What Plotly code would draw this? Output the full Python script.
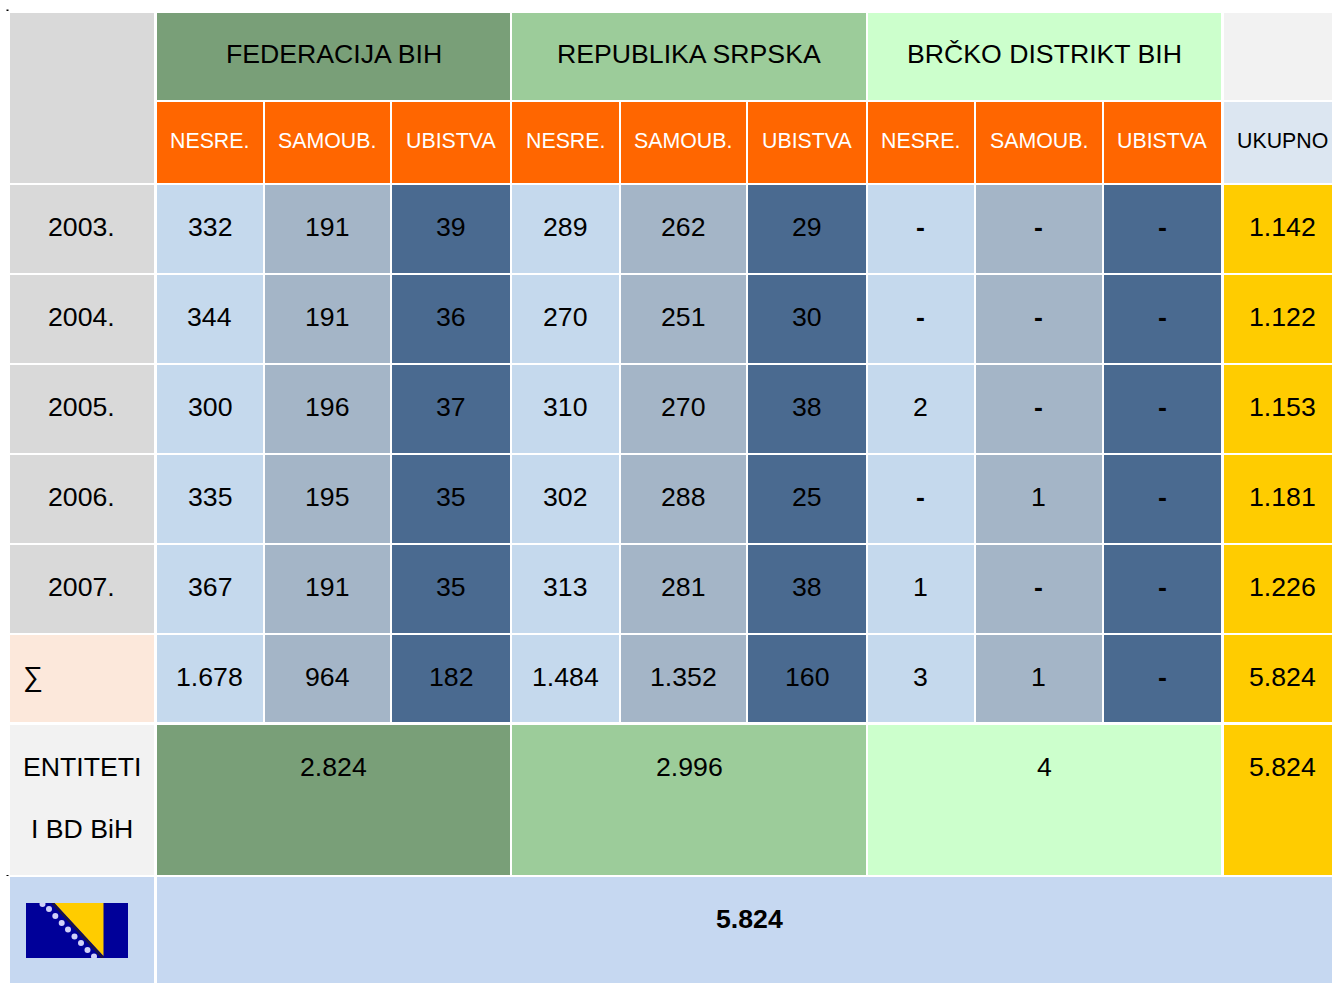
import plotly.graph_objects as go

# ---------- data ----------
years = ["2003.", "2004.", "2005.", "2006.", "2007."]
sum_label = "∑"
groups = ["FEDERACIJA BIH", "REPUBLIKA SRPSKA", "BRČKO DISTRIKT BIH"]
subheads = ["NESRE.", "SAMOUB.", "UBISTVA"]
total_head = "UKUPNO"

fbih_nesre = ["332", "344", "300", "335", "367", "1.678"]
fbih_samoub = ["191", "191", "196", "195", "191", "964"]
fbih_ubistva = ["39", "36", "37", "35", "35", "182"]
rs_nesre = ["289", "270", "310", "302", "313", "1.484"]
rs_samoub = ["262", "251", "270", "288", "281", "1.352"]
rs_ubistva = ["29", "30", "38", "25", "38", "160"]
bd_nesre = ["-", "-", "2", "-", "1", "3"]
bd_samoub = ["-", "-", "-", "1", "-", "1"]
bd_ubistva = ["-", "-", "-", "-", "-", "-"]
ukupno = ["1.142", "1.122", "1.153", "1.181", "1.226", "5.824"]

entity_label = ["ENTITETI", "I BD BiH"]
entity_totals = ["2.824", "2.996", "4"]
entity_sum = "5.824"
grand_total = "5.824"

# ---------- layout ----------
FONT = "Liberation Sans, Arial, sans-serif"
col_l = [10, 157, 265, 392, 512, 621, 748, 868, 976, 1104, 1224]
col_r = [154, 263, 390, 510, 619, 746, 866, 974, 1102, 1221, 1332]
row_t = [185, 275, 365, 455, 545, 635]
row_b = [273, 363, 453, 543, 633, 722]

GREY = "#D9D9D9"; PALE = "#F2F2F2"; GREEN1 = "#799F78"; GREEN2 = "#9CCC9A"; GREEN3 = "#CCFFCC"
ORANGE = "#FF6600"; HEAD_T = "#DCE6F1"; C1 = "#C5D9ED"; C2 = "#A4B5C7"; C3 = "#4A6A90"
YELLOW = "#FFCC00"; SIGMA = "#FCE8DB"; BOTTOM = "#C6D8F1"
cell_colors = [C1, C2, C3]
group_colors = [GREEN1, GREEN2, GREEN3]

shapes = []
annotations = []


def rect(x0, y0, x1, y1, color, layer="below"):
    shapes.append(dict(type="rect", xref="x", yref="y", x0=x0, y0=y0, x1=x1, y1=y1,
                       fillcolor=color, line=dict(width=0), layer=layer))


def label(x, y, text, size=26.67, color="black", bold=False, anchor="center"):
    annotations.append(dict(xref="x", yref="y", x=x, y=y, text=f"<b>{text}</b>" if bold else text,
                            showarrow=False, xanchor=anchor, yanchor="middle",
                            font=dict(family=FONT, size=size, color=color)))


# Corner and header cells
rect(col_l[0], 13, col_r[0], 183, GREY)
rect(col_l[10], 13, col_r[10], 100, PALE)
rect(col_l[10], 102, col_r[10], 183, HEAD_T)
total_center = (col_l[10] + col_r[10]) / 2 + 4.5
label(total_center, 141, total_head, size=21.33)

for g, name in enumerate(groups):
    l = col_l[1 + 3 * g]
    r = col_r[3 + 3 * g]
    rect(l, 13, r, 100, group_colors[g])
    label((l + r) / 2, 54, name)
    rect(l, 725, r, 875, group_colors[g])
    label((l + r) / 2, 767, entity_totals[g])
    for s, sub in enumerate(subheads):
        c = 1 + 3 * g + s
        rect(col_l[c], 102, col_r[c], 183, ORANGE)
        label((col_l[c] + col_r[c]) / 2 - 0.5, 141, sub, size=21.33, color="white")

# Row labels
for i, y in enumerate(years):
    rect(col_l[0], row_t[i], col_r[0], row_b[i], GREY)
    label((col_l[0] + col_r[0]) / 2 - 0.5, row_t[i] + 42, y)
rect(col_l[0], row_t[5], col_r[0], row_b[5], SIGMA)
label(20.5, 676, sum_label, size=28, anchor="left")

# Body
columns = [fbih_nesre, fbih_samoub, fbih_ubistva, rs_nesre, rs_samoub, rs_ubistva,
           bd_nesre, bd_samoub, bd_ubistva]
for c, values in enumerate(columns):
    for i, v in enumerate(values):
        rect(col_l[c + 1], row_t[i], col_r[c + 1], row_b[i], cell_colors[c % 3])
        label((col_l[c + 1] + col_r[c + 1]) / 2 - 0.5, row_t[i] + 42, v, bold=(v == "-"))

for i, v in enumerate(ukupno):
    rect(col_l[10], row_t[i], col_r[10], row_b[i], YELLOW)
    label(total_center, row_t[i] + 42, v)

# Entity row
rect(col_l[0], 725, col_r[0], 875, PALE)
label((col_l[0] + col_r[0]) / 2, 767, entity_label[0])
label((col_l[0] + col_r[0]) / 2, 829, entity_label[1])
rect(col_l[10], 725, col_r[10], 875, YELLOW)
label(total_center, 767, entity_sum)

# Bottom row
rect(col_l[0], 877, col_r[0], 983, BOTTOM)
rect(col_l[1], 877, col_r[10], 983, BOTTOM)
label((col_l[1] + col_r[10]) / 2 + 5, 919, grand_total, bold=True)

# Flag of Bosnia and Herzegovina
rect(26, 903, 128, 958, "#000099")
shapes.append(dict(type="path", xref="x", yref="y", path="M 54.5 903 L 103.5 903 L 103.5 956 Z",
                   fillcolor="#FFCC00", line=dict(width=0), layer="below"))
shapes.append(dict(type="line", xref="x", yref="y", x0=52.5, y0=903, x1=103, y1=958,
                   line=dict(color="#1C1440", width=2.5), layer="below"))
star_x = [42.5, 49, 55.3, 61.7, 68, 74.5, 81, 87.5, 94]
star_y = [904, 909, 916, 923, 929.5, 936.5, 943, 950, 956.5]
stars = go.Scatter(x=star_x, y=star_y, mode="markers", hoverinfo="skip",
                   marker=dict(symbol="circle", size=6, color="#D0D0F8", line=dict(width=0)))
# Clip star overflow at the flag's top and bottom
rect(26, 897, 128, 903, BOTTOM, layer="above")
rect(26, 958, 128, 964, BOTTOM, layer="above")

# Small stray marks in the reference
rect(6.5, 9.5, 8.5, 11, "black")
rect(6.5, 875, 8.5, 876, "black")

fig = go.Figure(data=[stars])
fig.update_layout(
    width=1332, height=983, margin=dict(l=0, r=0, t=0, b=0),
    paper_bgcolor="white", plot_bgcolor="white", showlegend=False,
    xaxis=dict(range=[0, 1332], visible=False, fixedrange=True),
    yaxis=dict(range=[983, 0], visible=False, fixedrange=True),
    shapes=shapes, annotations=annotations,
)
fig.write_html("out.html", config={"displayModeBar": False},
               post_script="document.body.style.margin='0';document.body.style.overflow='hidden';")
